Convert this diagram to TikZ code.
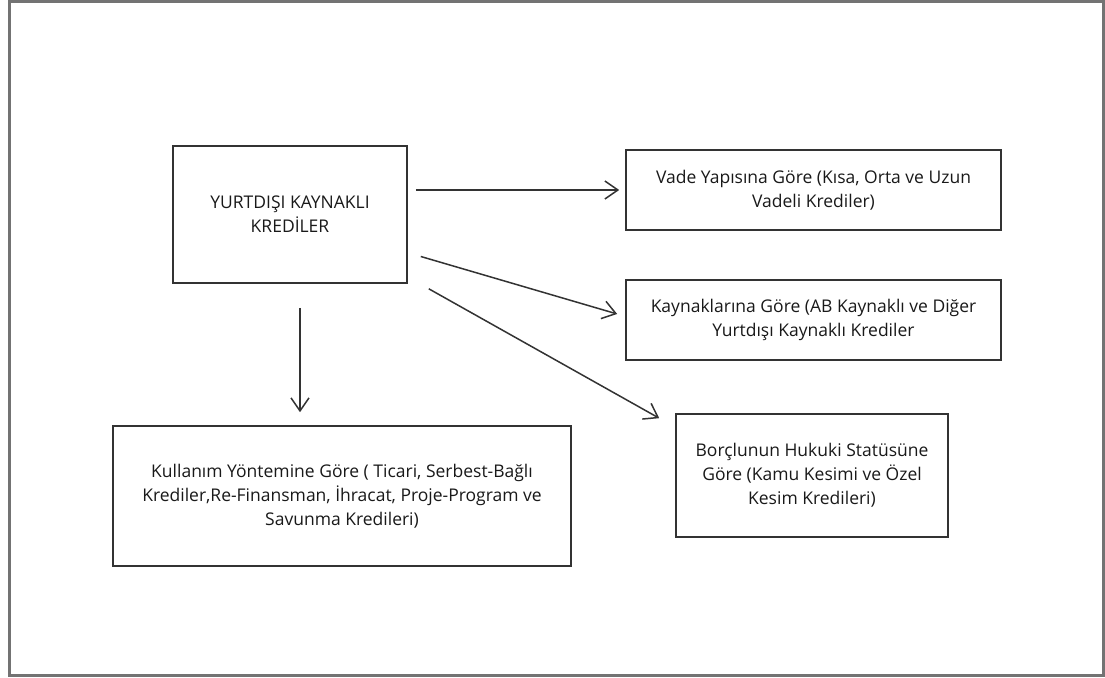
\documentclass[tikz,border=0pt]{standalone}
\usepackage{fontspec}
\setmainfont{Open Sans}
\usetikzlibrary{arrows.meta}

\begin{document}
\begin{tikzpicture}[x=1pt,y=-1pt,
	kutu/.style={draw=black!80,line width=1.6pt,align=center,inner sep=0pt,text=black!90,font=\fontsize{17.5}{24}\selectfont},
	ok/.style={draw=black!80,line width=1.5pt,-{Straight Barb[length=13pt,width=18pt]}}]
	\useasboundingbox (0,0) rectangle (1105,677);
	\draw[black!55,line width=3pt] (9.5,1.5) rectangle (1103,675.5);
	\node[kutu,minimum width=234pt,minimum height=137pt] (yurtdisi) at (290,214.5) {YURTDIŞI KAYNAKLI\\KREDİLER};
	\node[kutu,minimum width=375pt,minimum height=80pt] (vade) at (813.5,190) {Vade Yapısına Göre (Kısa, Orta ve Uzun\\Vadeli Krediler)};
	\node[kutu,minimum width=375pt,minimum height=80pt] (kaynak) at (813.5,320) {Kaynaklarına Göre (AB Kaynaklı ve Diğer\\Yurtdışı Kaynaklı Krediler};
	\node[kutu,minimum width=272pt,minimum height=123pt] (borclu) at (812,475.5) {Borçlunun Hukuki Statüsüne\\Göre (Kamu Kesimi ve Özel\\Kesim Kredileri)};
	\node[kutu,minimum width=458pt,minimum height=140pt] (kullanim) at (342,496) {Kullanım Yöntemine Göre ( Ticari, Serbest-Bağlı\\Krediler,Re-Finansman, İhracat, Proje-Program ve\\Savunma Kredileri)};
	\draw[ok] ([xshift=8pt]yurtdisi.east |- vade.west) -- ([xshift=-6pt]vade.west);
	\draw[ok] ([shift={(13,42)}]yurtdisi.east) -- ([shift={(-8,-6)}]kaynak.west);
	\draw[ok] ([shift={(21,5)}]yurtdisi.south east) -- ([shift={(-16,5)}]borclu.north west);
	\draw[ok] ([shift={(10,24)}]yurtdisi.south) -- ([shift={(10,-13)}]yurtdisi.south |- kullanim.north);
\end{tikzpicture}
\end{document}
